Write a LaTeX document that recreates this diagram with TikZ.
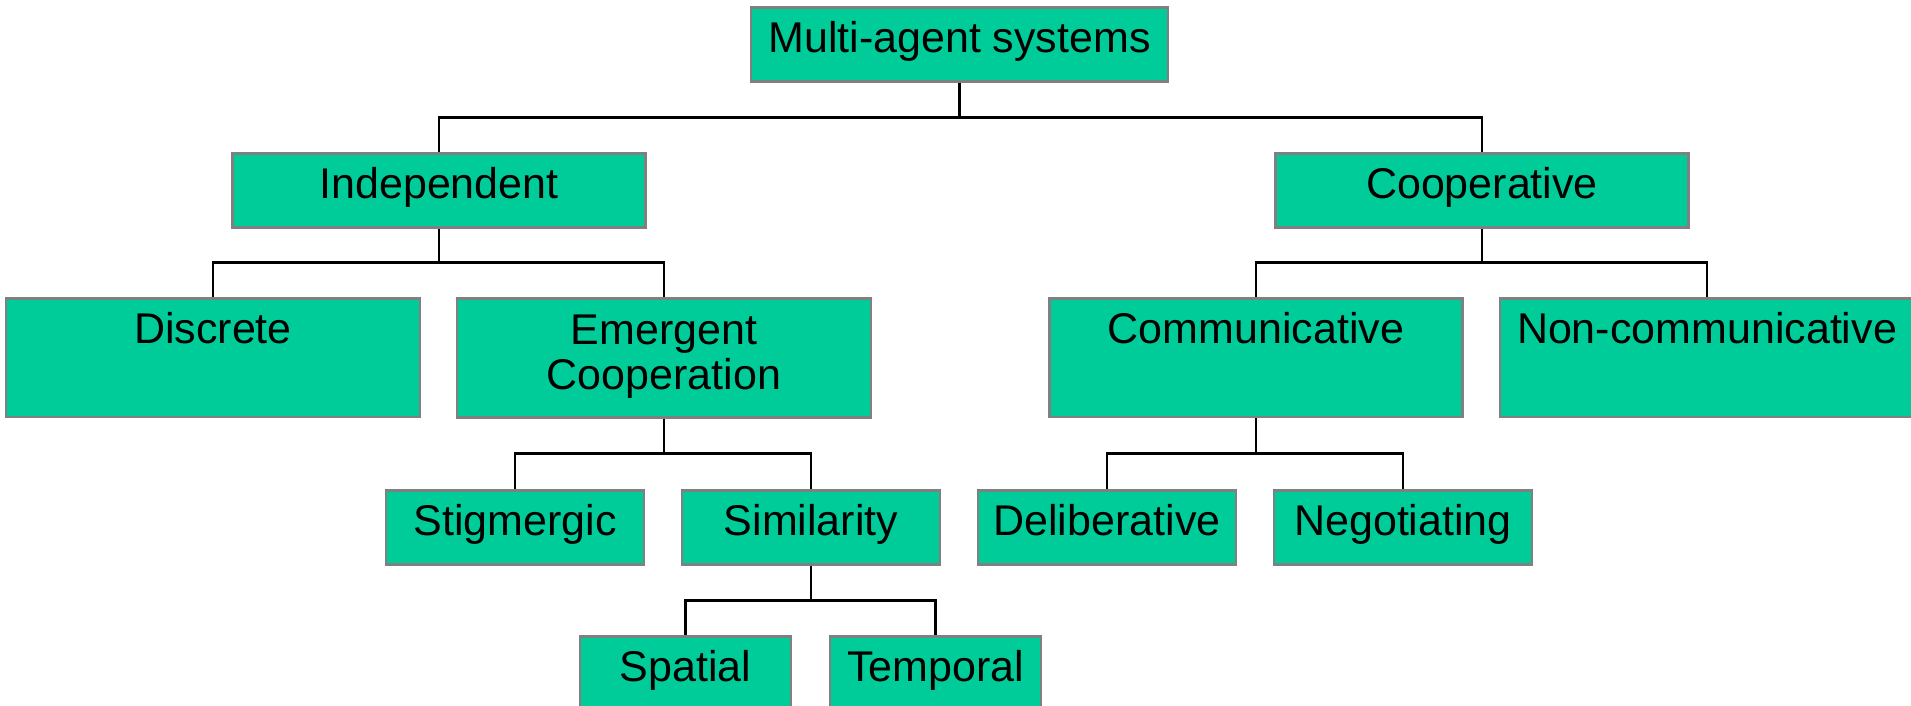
\documentclass[tikz,border=0pt]{standalone}
\usepackage{fontspec}
\usetikzlibrary{calc}
\newfontfamily\boxfont{Liberation Sans}
\definecolor{boxgreen}{RGB}{0,204,153}
\definecolor{boxgray}{RGB}{128,128,128}
\begin{document}
\begin{tikzpicture}[x=0.5pt,y=-0.5pt,
  box/.style={draw=boxgray, line width=1.3pt, fill=boxgreen, inner xsep=0pt, inner ysep=0pt,
    anchor=north, font={\boxfont\fontsize{21.5pt}{22.2pt}\selectfont}, text height=22.5pt},
  short/.style={box, text depth=14.5pt},
  tall/.style={box, text depth=36.8pt},
  link/.style={draw=black, line width=1.4pt,
    to path={(\tikztostart) |- ($(\tikztostart)!0.5!(\tikztotarget)$) -| (\tikztotarget)}}]
\useasboundingbox (0,0) rectangle (1911,706);
\clip (0,0) rectangle (1911,706);

% root
\node[short, minimum width=208.5pt] (msys) at (959.5,6) {Multi-agent systems};

% second level
\node[short, minimum width=206.5pt] (indep) at (439,152) {Independent};
\node[short, minimum width=206.5pt] (coop)  at (1482,152) {Cooperative};

% third level (tall boxes, text at the top)
\node[tall, minimum width=207pt] (disc)  at (213,297) {Discrete};
\node[tall, minimum width=207pt, text height=45.35pt, text depth=14.2pt] (emerg) at (664,297)
  {\setlength{\tabcolsep}{0pt}\begin{tabular}[b]{c}Emergent\\Cooperation\end{tabular}};
\node[tall, minimum width=206.5pt] (comm)  at (1256,297) {Communicative};
\node[tall, minimum width=207pt] (noncomm) at (1707,297) {Non-communicative};

% fourth level
\node[short, minimum width=129pt] (stig)  at (515,489) {Stigmergic};
\node[short, minimum width=129pt] (sim)   at (811,489) {Similarity};
\node[short, minimum width=129pt] (delib) at (1107,489) {Deliberative};
\node[short, minimum width=129pt] (negot) at (1403,489) {Negotiating};

% fifth level
\node[short, minimum width=105.5pt] (spat) at (685.5,635) {Spatial};
\node[short, minimum width=105.5pt] (temp) at (935.5,635) {Temporal};

% connectors
\draw[link] (msys.south) to (indep.north) (msys.south) to (coop.north);
\draw[link] (indep.south) to (disc.north) (indep.south) to (emerg.north);
\draw[link] (coop.south) to (comm.north) (coop.south) to (noncomm.north);
\draw[link] (emerg.south) to (stig.north) (emerg.south) to (sim.north);
\draw[link] (comm.south) to (delib.north) (comm.south) to (negot.north);
\draw[link] (sim.south) to (spat.north) (sim.south) to (temp.north);
\end{tikzpicture}
\end{document}
